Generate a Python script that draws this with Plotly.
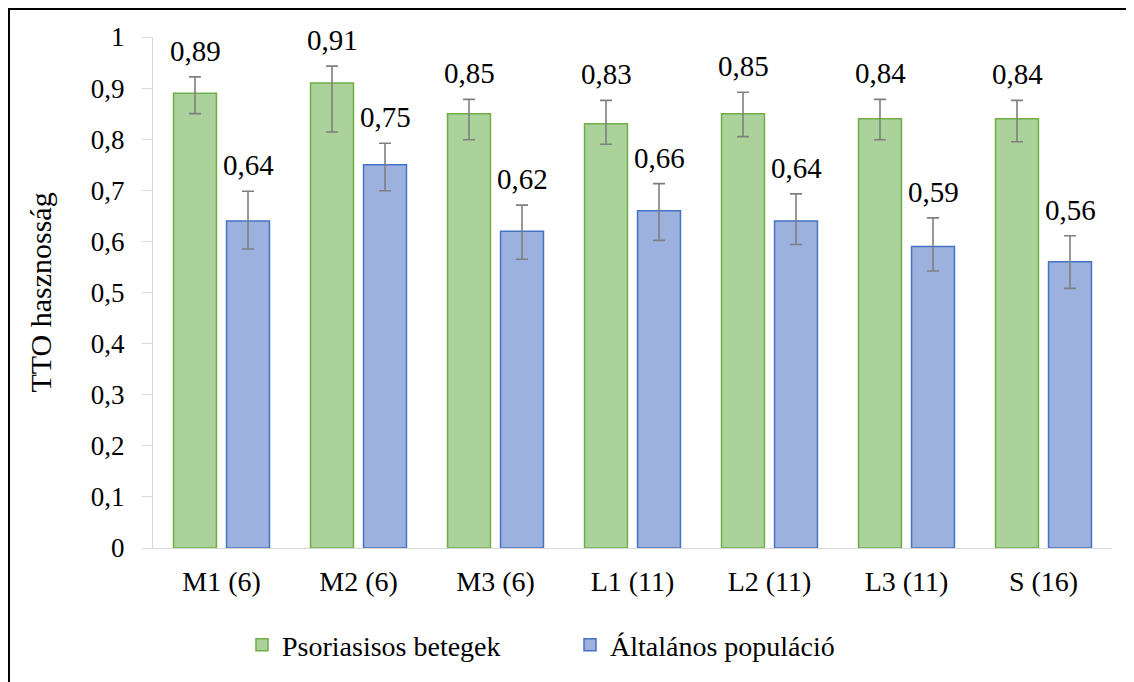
import plotly.graph_objects as go

categories = ["M1 (6)", "M2 (6)", "M3 (6)", "L1 (11)", "L2 (11)", "L3 (11)", "S (16)"]
psor_vals = [0.89, 0.91, 0.85, 0.83, 0.85, 0.84, 0.84]
psor_err_plus = [0.032, 0.033, 0.028, 0.046, 0.042, 0.038, 0.036]
psor_err_minus = [0.040, 0.096, 0.051, 0.040, 0.045, 0.041, 0.045]
gen_vals = [0.64, 0.75, 0.62, 0.66, 0.64, 0.59, 0.56]
gen_err_plus = [0.058, 0.042, 0.051, 0.053, 0.053, 0.056, 0.051]
gen_err_minus = [0.055, 0.051, 0.055, 0.058, 0.046, 0.048, 0.052]
series_names = ["Psoriasisos betegek", "Általános populáció"]

FONT = "Liberation Serif"
err_style = dict(color="#7f7f7f", thickness=1.6, width=6)

fig = go.Figure()
fig.add_trace(go.Bar(
    name=series_names[0], x=categories, y=psor_vals,
    marker=dict(color="#abd29a", line=dict(color="#70ad47", width=1.5)),
    error_y=dict(type="data", symmetric=False, array=psor_err_plus,
                 arrayminus=psor_err_minus, **err_style),
))
fig.add_trace(go.Bar(
    name=series_names[1], x=categories, y=gen_vals,
    marker=dict(color="#9db1df", line=dict(color="#4472c4", width=1.5)),
    error_y=dict(type="data", symmetric=False, array=gen_err_plus,
                 arrayminus=gen_err_minus, **err_style),
))

annotations = []
for vals, plus, shift in [(psor_vals, psor_err_plus, -26.5), (gen_vals, gen_err_plus, 26.5)]:
    for c, v, p in zip(categories, vals, plus):
        annotations.append(dict(
            x=c, y=v + p, xref="x", yref="y", text=f"{v:.2f}".replace(".", ","),
            showarrow=False, xshift=shift, yanchor="bottom", yshift=8,
            font=dict(family=FONT, size=29, color="black"),
        ))

# screen-pixel layout (page body has an 8px offset)
OFF = 8
W, H = 1134 - OFF, 682 - OFF
L, R, T, B = 153, 1112, 37, 548
def px_x(p):
    return (p - L) / (R - L)
def px_y(p):
    return (B - p) / (B - T)

fig.add_shape(type="rect", xref="paper", yref="paper",
              x0=px_x(9), x1=px_x(1127), y0=px_y(700), y1=px_y(9),
              line=dict(color="black", width=2), fillcolor="rgba(0,0,0,0)", layer="below")

fig.update_layout(
    width=W, height=H,
    margin=dict(l=L - OFF, r=W - (R - OFF), t=T - OFF, b=H - (B - OFF)),
    paper_bgcolor="white", plot_bgcolor="white",
    barmode="group", bargap=0.226, bargroupgap=0.19,
    separators=", ",
    font=dict(family=FONT, size=27, color="black"),
    showlegend=True,
    legend=dict(orientation="h", x=px_x(242), xanchor="left", y=px_y(645), yanchor="middle",
                font=dict(family=FONT, size=28, color="black"), itemwidth=30,
                entrywidth=283, entrywidthmode="pixels"),
    annotations=annotations,
    xaxis=dict(showgrid=False, showline=True, linecolor="#d9d9d9", linewidth=1,
               ticks="", ticklabelstandoff=8,
               tickfont=dict(family=FONT, size=28, color="black")),
    yaxis=dict(range=[0, 1], dtick=0.1, tick0=0, showgrid=False, showline=True,
               linecolor="#d9d9d9", linewidth=1, ticks="outside", ticklen=10,
               tickcolor="#d9d9d9", ticklabelstandoff=12, zeroline=False,
               tickfont=dict(family=FONT, size=27, color="black"),
               title=dict(text="TTO hasznosság", standoff=30,
                          font=dict(family=FONT, size=30, color="black"))),
)

fig.write_html("out.html")
